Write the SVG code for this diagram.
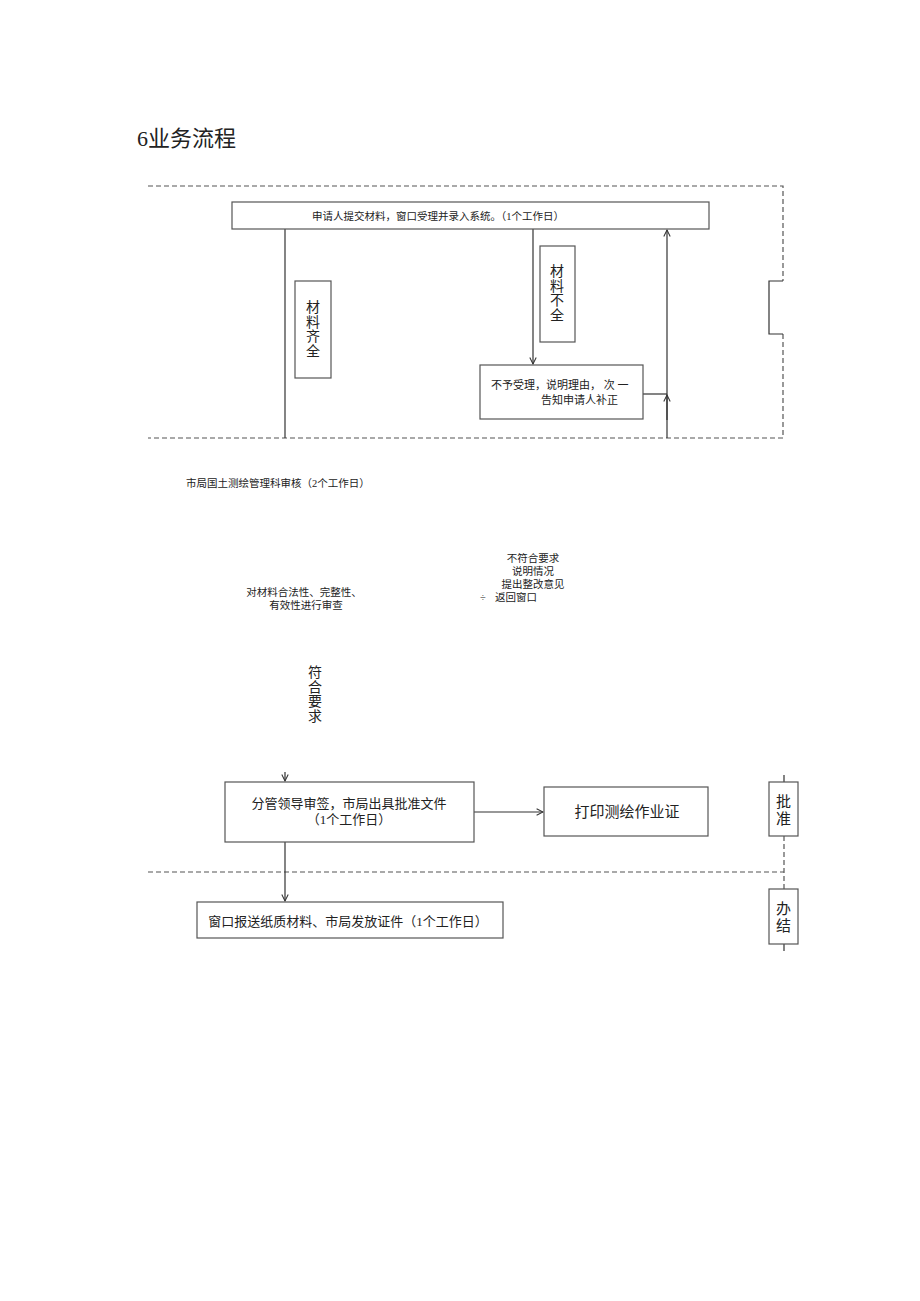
<svg xmlns="http://www.w3.org/2000/svg" width="920" height="1301" viewBox="0 0 920 1301">
<defs>
<style>
.t{font-family:"Liberation Serif","Noto Sans CJK SC",serif;fill:#222;}
.box{fill:#fff;stroke:#555;stroke-width:1.2;}
.ln{fill:none;stroke:#333;stroke-width:1.2;}
.dash{fill:none;stroke:#555;stroke-width:1.2;stroke-dasharray:5,3;}
</style>
<marker id="ah" viewBox="0 0 10 10" refX="9" refY="5" markerWidth="8" markerHeight="8" orient="auto" markerUnits="userSpaceOnUse">
<path d="M1,1 L9,5 L1,9" fill="none" stroke="#333" stroke-width="1.3"/>
</marker>
</defs>
<rect width="920" height="1301" fill="#fff"/>
<text class="t" x="137" y="146" font-size="22">6业务流程</text>

<g id="lanes">
<path class="dash" d="M148,186 H783 V281"/>
<path class="dash" d="M783,334 V438 H148"/>
<path class="ln" d="M783,281 H769 V334 H783" stroke="#666"/>
<path class="dash" d="M148,872 H784"/>
<path class="dash" d="M784,836 V889"/>
<path class="ln" d="M784,775 V782 M784,944 V951"/>
</g>

<g id="connectors">
<path class="ln" d="M285,229 V438"/>
<path class="ln" d="M533,229 V364" marker-end="url(#ah)"/>
<path class="ln" d="M667,438 V230" marker-end="url(#ah)"/>
<path class="ln" d="M643,394 H667"/>
<path class="ln" d="M667,420 V395" marker-end="url(#ah)"/>
<path class="ln" d="M285,772 V781" marker-end="url(#ah)"/>
<path class="ln" d="M474,812 H543" marker-end="url(#ah)"/>
<path class="ln" d="M285,842 V901" marker-end="url(#ah)"/>
</g>

<g id="n-submit">
<rect class="box" x="232" y="202" width="477" height="27"/>
<text class="t" x="312" y="220" font-size="10.5">申请人提交材料，窗口受理并录入系统。（1个工作日）</text>
</g>

<g id="n-complete">
<rect class="box" x="295" y="281" width="36" height="97"/>
<text class="t" font-size="14" text-anchor="middle"><tspan x="313" y="312">材</tspan><tspan x="313" y="326.5">料</tspan><tspan x="313" y="341">齐</tspan><tspan x="313" y="355.5">全</tspan></text>
</g>

<g id="n-incomplete">
<rect class="box" x="540" y="246" width="35" height="96"/>
<text class="t" font-size="14" text-anchor="middle"><tspan x="557" y="276">材</tspan><tspan x="557" y="290.5">料</tspan><tspan x="557" y="305">不</tspan><tspan x="557" y="319.5">全</tspan></text>
</g>

<g id="n-reject">
<rect class="box" x="480" y="365" width="163" height="54"/>
<text class="t" font-size="11" x="491" y="389">不予受理，说明理由，  次  一</text>
<text class="t" font-size="11" x="541" y="404">告知申请人补正</text>
</g>

<g id="n-review">
<text class="t" font-size="10.5" x="186" y="487">市局国土测绘管理科审核（2个工作日）</text>
<text class="t" font-size="10.5" x="304" y="596" text-anchor="middle">对材料合法性、完整性、</text>
<text class="t" font-size="10.5" x="306" y="609" text-anchor="middle">有效性进行审查</text>
</g>

<g id="n-notok">
<text class="t" font-size="10.5" text-anchor="middle"><tspan x="533" y="562">不符合要求</tspan><tspan x="533" y="575">说明情况</tspan><tspan x="533" y="588">提出整改意见</tspan></text>
<text class="t" font-size="10.5" x="480" y="601">÷</text>
<text class="t" font-size="10.5" x="495" y="601">返回窗口</text>
</g>

<g id="n-ok">
<text class="t" font-size="14" text-anchor="middle"><tspan x="315" y="677">符</tspan><tspan x="315" y="691.5">合</tspan><tspan x="315" y="706">要</tspan><tspan x="315" y="720.5">求</tspan></text>
</g>

<g id="n-sign">
<rect class="box" x="225" y="782" width="249" height="60"/>
<text class="t" font-size="13" x="349" y="808" text-anchor="middle" fill="#333">分管领导审签，市局出具批准文件</text>
<text class="t" font-size="13" x="349" y="824" text-anchor="middle" fill="#333">（1个工作日）</text>
</g>

<g id="n-print">
<rect class="box" x="544" y="787" width="164" height="49"/>
<text class="t" font-size="15" x="627" y="817" text-anchor="middle">打印测绘作业证</text>
</g>

<g id="n-deliver">
<rect class="box" x="197" y="902" width="306" height="36"/>
<text class="t" font-size="13" x="348" y="926" text-anchor="middle" fill="#333">窗口报送纸质材料、市局发放证件（1个工作日）</text>
</g>

<g id="n-approve">
<rect class="box" x="769" y="782" width="29" height="54"/>
<text class="t" font-size="15" text-anchor="middle"><tspan x="783.5" y="807">批</tspan><tspan x="783.5" y="824">准</tspan></text>
</g>

<g id="n-finish">
<rect class="box" x="769" y="889" width="29" height="55"/>
<text class="t" font-size="15" text-anchor="middle"><tspan x="783.5" y="914">办</tspan><tspan x="783.5" y="931">结</tspan></text>
</g>
</svg>
